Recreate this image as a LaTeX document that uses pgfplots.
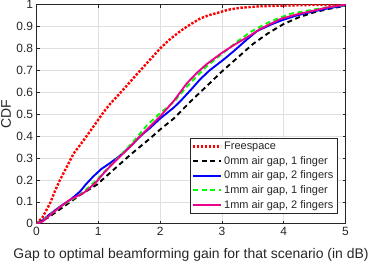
\documentclass[border=0pt]{standalone}
\usepackage{pgfplots}
\pgfplotsset{compat=1.18}
\usepackage{fontspec}
\setmainfont{Liberation Sans}
\definecolor{axgray}{RGB}{38,38,38}
\definecolor{gridgray}{RGB}{223,223,223}
\begin{document}
\begin{tikzpicture}
\path[use as bounding box] (0,0) rectangle (374bp,263bp);
\begin{axis}[
  at={(36.5bp,39.3bp)}, anchor=south west,
  scale only axis, width=309bp, height=219bp,
  xmin=0, xmax=5, ymin=0, ymax=1,
  xtick={0,1,2,3,4,5}, ytick={0,0.1,...,1.0},
  yticklabels={0,0.1,0.2,0.3,0.4,0.5,0.6,0.7,0.8,0.9,1},
  tick align=inside, major tick length=3bp,
  axis line style={axgray, line width=0.5bp},
  tick style={axgray, line width=0.5bp},
  grid=major, major grid style={gridgray, line width=0.5bp},
  /pgf/number format/assume math mode=true,
  ticklabel style={font=\fontsize{12}{14}\selectfont, text=axgray},
  xlabel={Gap to optimal beamforming gain for that scenario (in dB)},
  ylabel={CDF},
  label style={font=\fontsize{14}{16}\selectfont, text=axgray},
  xlabel style={at={(axis description cs:0.5,-0.161)}, anchor=base},
  ylabel style={at={(axis description cs:-0.0987,0.5)}, anchor=center},
  legend cell align=left,
  legend style={at={(0.9725,0.0443)}, anchor=south east,
    font=\fontsize{11}{12}\selectfont, draw=axgray, line width=0.5bp,
    inner sep=1.5bp, text=axgray, nodes={inner ysep=2.6bp}},
  legend image code/.code={\draw[#1] (0bp,0bp) -- (28bp,0bp);},
]
\addplot[red, line width=2.4bp, dash pattern=on 2.4bp off 1.6bp] coordinates {
(0,0) (0.1,0.03) (0.22,0.094) (0.3,0.15) (0.38,0.20) (0.5,0.265) (0.6,0.32) (0.76,0.38) (0.9,0.435) (1.0,0.475) (1.1,0.515) (1.2,0.55) (1.3,0.58) (1.46,0.63) (1.6,0.675) (1.68,0.70) (1.84,0.75) (2.0,0.80) (2.15,0.84) (2.33,0.88) (2.5,0.912) (2.65,0.937) (2.8,0.953) (2.97,0.966) (3.1,0.977) (3.3,0.986) (3.62,0.993) (4.0,0.996) (4.5,0.999) (5,1)};
\addlegendentry{Freespace}
\addplot[black, line width=1.9bp, dash pattern=on 5bp off 3.5bp] coordinates {
(0,0) (0.2,0.03) (0.4,0.07) (0.7,0.13) (0.975,0.178) (1.245,0.246) (1.52,0.315) (1.84,0.39) (2.0,0.43) (2.22,0.48) (2.5,0.56) (2.76,0.63) (3.0,0.695) (3.3,0.77) (3.5,0.82) (3.75,0.87) (4.0,0.912) (4.25,0.943) (4.5,0.966) (4.75,0.982) (5,0.995)};
\addlegendentry{0mm air gap, 1 finger}
\addplot[blue, line width=1.9bp] coordinates {
(0,0) (0.1,0.015) (0.2,0.04) (0.38,0.078) (0.55,0.11) (0.705,0.147) (0.8,0.18) (0.92,0.216) (1.05,0.25) (1.19,0.277) (1.35,0.31) (1.52,0.353) (1.68,0.40) (1.84,0.438) (2.0,0.48) (2.22,0.53) (2.33,0.56) (2.5,0.612) (2.65,0.66) (2.8,0.70) (3.03,0.75) (3.2,0.79) (3.4,0.84) (3.57,0.88) (3.8,0.91) (3.95,0.927) (4.2,0.95) (4.49,0.97) (4.75,0.985) (5,0.997)};
\addlegendentry{0mm air gap, 2 fingers}
\addplot[green, line width=1.9bp, dash pattern=on 5bp off 3.5bp] coordinates {
(0,0) (0.1,0.012) (0.22,0.042) (0.4,0.08) (0.6,0.115) (0.76,0.145) (0.975,0.20) (1.245,0.28) (1.52,0.36) (1.79,0.45) (2.0,0.505) (2.22,0.555) (2.43,0.625) (2.6,0.675) (2.76,0.72) (3.0,0.775) (3.24,0.83) (3.46,0.875) (3.62,0.90) (3.8,0.925) (4.1,0.958) (4.49,0.978) (4.75,0.99) (5,0.998)};
\addlegendentry{1mm air gap, 1 finger}
\addplot[magenta, line width=1.9bp] coordinates {
(0,0) (0.1,0.01) (0.22,0.04) (0.4,0.08) (0.54,0.109) (0.76,0.14) (0.85,0.16) (0.975,0.193) (1.1,0.235) (1.245,0.277) (1.4,0.32) (1.52,0.353) (1.68,0.40) (1.84,0.445) (2.0,0.49) (2.22,0.56) (2.43,0.64) (2.6,0.69) (2.76,0.73) (3.0,0.78) (3.19,0.815) (3.46,0.86) (3.62,0.889) (3.95,0.935) (4.2,0.955) (4.49,0.973) (4.75,0.99) (5,1.0)};
\addlegendentry{1mm air gap, 2 fingers}
\end{axis}
\end{tikzpicture}
\end{document}
